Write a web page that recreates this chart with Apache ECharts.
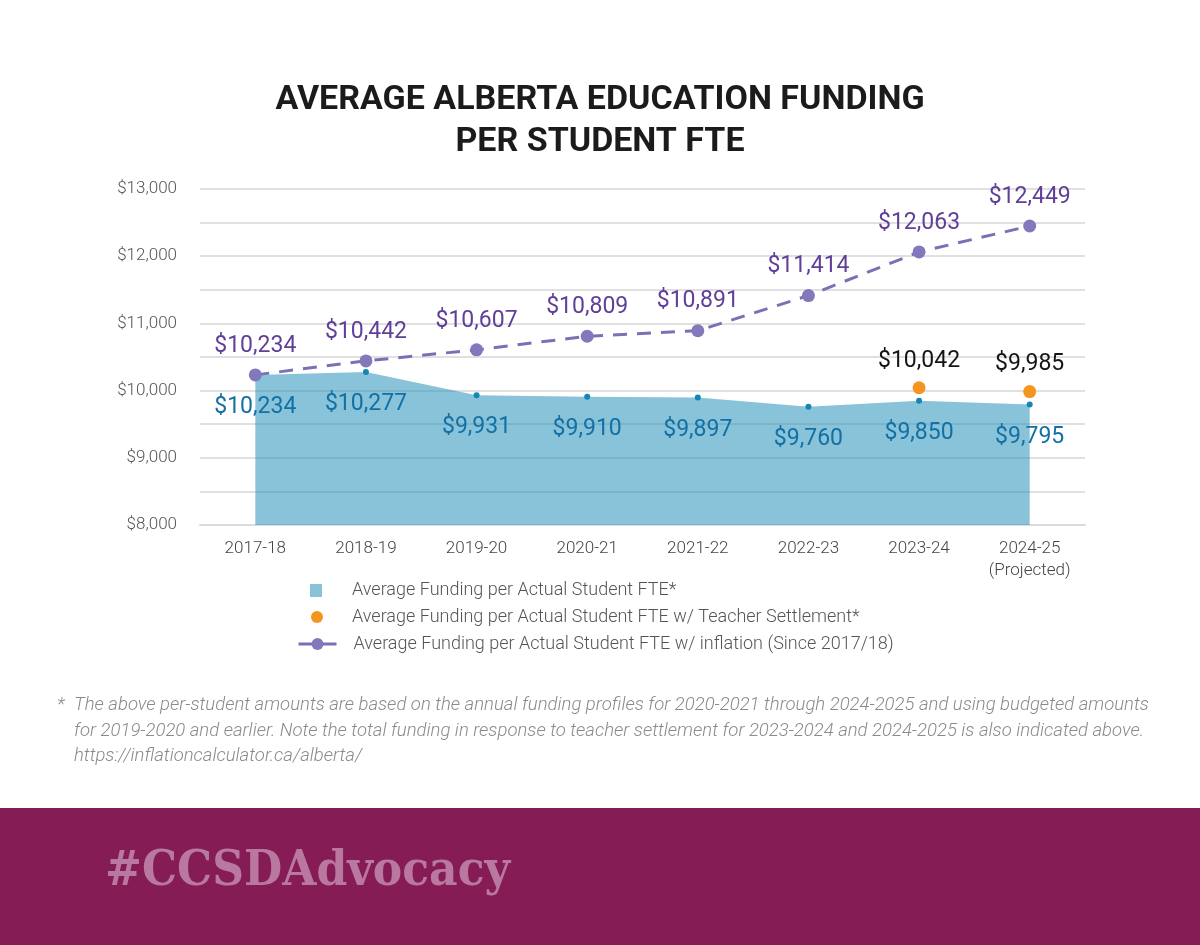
<!DOCTYPE html>
<html><head><meta charset="utf-8">
<script src="https://cdn.jsdelivr.net/npm/echarts@6/dist/echarts.min.js"></script>
<style>html,body{margin:0;padding:0;background:#fff}#c{width:1200px;height:945px}</style>
</head><body><div id="c"></div>
<script>
const categories = ['2017-18','2018-19','2019-20','2020-21','2021-22','2022-23','2023-24','2024-25\n(Projected)'];
const fundingValues = [10234,10277,9931,9910,9897,9760,9850,9795];
const settlementValues = [null,null,null,null,null,null,10042,9985];
const inflationValues = [10234,10442,10607,10809,10891,11414,12063,12449];
const seriesNames = ['Average Funding per Actual Student FTE*','Average Funding per Actual Student FTE w/ Teacher Settlement*','Average Funding per Actual Student FTE w/ inflation (Since 2017/18)'];
const titleText = 'AVERAGE ALBERTA EDUCATION FUNDING\nPER STUDENT FTE';
const footnoteLines = ['The above per-student amounts are based on the annual funding profiles for 2020-2021 through 2024-2025 and using budgeted amounts','for 2019-2020 and earlier. Note the total funding in response to teacher settlement for 2023-2024 and 2024-2025 is also indicated above.','https://inflationcalculator.ca/alberta/'];
const hashtag = '#CCSDAdvocacy';

const fmt = v => '$' + Number(v).toLocaleString('en-US');
const chart = echarts.init(document.getElementById('c'));
const legendText = {color:'#555', fontSize:18, fontWeight:300, fontFamily:'Roboto'};
const noteFont = 'italic 300 18.5px Roboto';
chart.setOption({
  backgroundColor:'#fff',
  textStyle:{fontFamily:'Roboto'},
  title:{text:titleText,left:'center',top:74,textStyle:{fontSize:34,fontWeight:'bold',color:'#1b1b1b',lineHeight:42,fontFamily:'Roboto'}},
  grid:{left:200,right:115,top:189,bottom:420},
  legend:[
    {data:[{name:seriesNames[0],icon:'rect',itemStyle:{color:'#8ac3d8'}}],left:310,top:581.5,padding:0,itemWidth:12,itemHeight:13,textStyle:Object.assign({padding:[0,0,0,25]},legendText)},
    {data:[{name:seriesNames[1],icon:'circle'}],left:311,top:608,padding:0,itemWidth:12,itemHeight:12,textStyle:Object.assign({padding:[0,0,0,24]},legendText)},
    {data:[seriesNames[2]],left:297,top:635,padding:0,itemWidth:38,itemHeight:15,lineStyle:{type:'solid',width:3},textStyle:Object.assign({padding:[0,0,0,12]},legendText)}
  ],
  xAxis:{type:'category',data:categories,boundaryGap:true,
    axisLine:{show:true,lineStyle:{color:'#dcdcdc',width:2}},axisTick:{show:false},
    axisLabel:{color:'#444',fontSize:17,fontWeight:300,margin:13,lineHeight:22,fontFamily:'Roboto'}},
  yAxis:{type:'value',min:8000,max:13000,interval:1000,
    axisLine:{show:false},axisTick:{show:false},
    axisLabel:{color:'#555',fontSize:17,fontWeight:300,margin:23,formatter:fmt,fontFamily:'Roboto'},
    splitLine:{lineStyle:{color:'#e0e0e0',width:2}},
    minorTick:{show:false,splitNumber:2},
    minorSplitLine:{show:true,lineStyle:{color:'#e0e0e0',width:2}}},
  series:[
    {name:seriesNames[0],type:'line',data:fundingValues,z:2,
      lineStyle:{width:0},symbol:'circle',symbolSize:6,showAllSymbol:true,
      itemStyle:{color:'#1585b6'},
      areaStyle:{color:'rgba(40,146,186,0.55)',opacity:1},
      label:{show:true,position:'bottom',distance:18,color:'#1270a4',fontSize:23,formatter:p=>fmt(p.value)}},
    {name:seriesNames[1],type:'scatter',data:settlementValues,z:4,symbolSize:13,
      itemStyle:{color:'#f5951f',opacity:1},
      label:{show:true,position:'top',distance:9,color:'#151515',fontSize:23,formatter:p=>fmt(p.value)}},
    {name:seriesNames[2],type:'line',data:inflationValues,z:3,
      lineStyle:{color:'#7a70b6',width:3,type:[14,10]},symbol:'circle',symbolSize:13,
      itemStyle:{color:'#8279bd'},
      label:{show:true,position:'top',distance:11,color:'#603f98',fontSize:23,formatter:p=>fmt(p.value)}}
  ],
  graphic:[
    {type:'text',x:57,y:705,style:{text:'*',fill:'#8a8a8a',font:noteFont,verticalAlign:'middle'}},
    {type:'text',x:74,y:705,style:{text:footnoteLines[0],fill:'#8a8a8a',font:noteFont,verticalAlign:'middle'}},
    {type:'text',x:74,y:731,style:{text:footnoteLines[1],fill:'#8a8a8a',font:noteFont,verticalAlign:'middle'}},
    {type:'text',x:74,y:756,style:{text:footnoteLines[2],fill:'#8a8a8a',font:noteFont,verticalAlign:'middle'}},
    {type:'rect',shape:{x:0,y:808,width:1200,height:137},style:{fill:'#861c56'}},
    {type:'text',x:105,y:872,style:{text:hashtag,fill:'#b9789f',font:'bold 49px "DejaVu Serif Condensed", "DejaVu Serif"',verticalAlign:'middle'}}
  ]
});
</script></body></html>
